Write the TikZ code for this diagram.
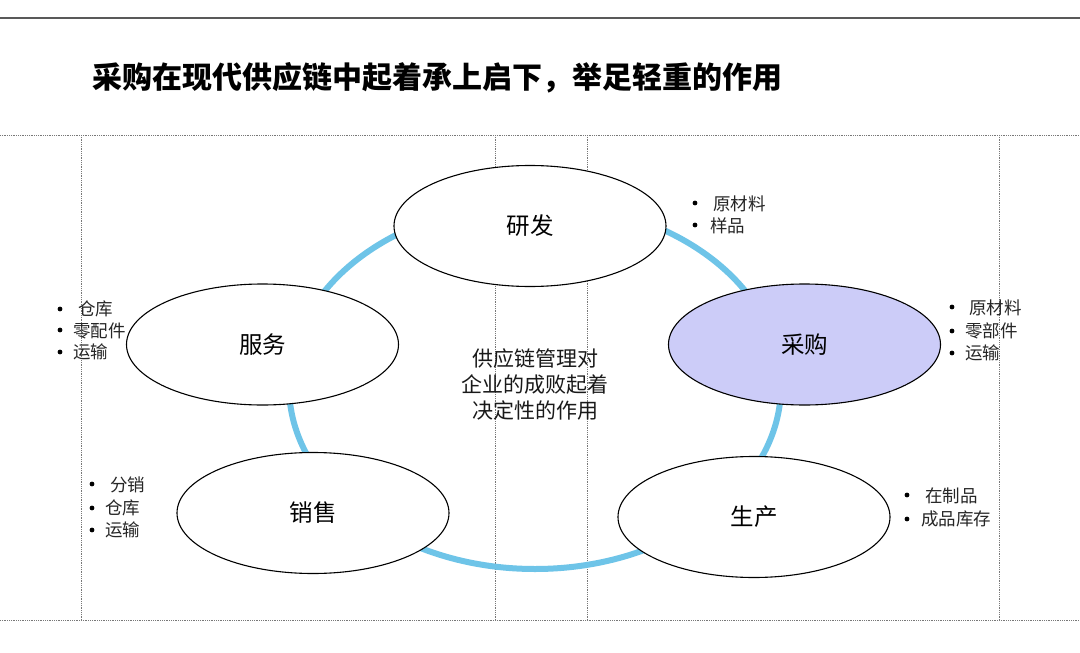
\documentclass[tikz,border=0pt]{standalone}
\usepackage{fontspec}
\newfontfamily\cjk{Noto Sans CJK SC}
\usetikzlibrary{shapes.geometric}
\definecolor{ringblue}{RGB}{110,196,232}
\definecolor{lavender}{RGB}{204,204,248}
\definecolor{gridgray}{RGB}{120,120,120}
\begin{document}
\begin{tikzpicture}[x=1pt,y=-1pt,
  ell/.style={draw=black, line width=1.1pt, fill=white, ellipse, minimum width=272pt, minimum height=121pt, inner sep=0pt, font=\cjk\fontsize{23.5}{26}\selectfont},
  gridline/.style={densely dotted, draw=gridgray, line width=0.8pt},
  ring/.style={draw=ringblue, line width=6pt},
  dot/.style={circle, fill=black, inner sep=0pt, minimum size=4.8pt},
  item/.style={anchor=west, inner sep=0pt, font=\cjk\fontsize{17.5}{20}\selectfont, text=black!85},
]
\useasboundingbox (0,0) rectangle (1080,653);
\fill[white] (0,0) rectangle (1080,653);
% top rule
\draw[draw=black!65, line width=2pt] (0,18) -- (1080,18);
% title
\node[anchor=west, inner sep=0pt, font=\cjk\bfseries\fontsize{30}{32}\selectfont] (title) at (92,78) {采购在现代供应链中起着承上启下，举足轻重的作用};
% grid
\draw[gridline] (0,135) -- (1080,135);
\draw[gridline] (0,620) -- (1080,620);
\foreach \gx in {81,495,587,999} { \draw[gridline] (\gx,135) -- (\gx,620); }
% ring
\draw[ring] (535,386) ellipse [x radius=246, y radius=183];
% ellipses
\node[ell] (yf) at (530,226) {研发};
\node[ell] (fw) at (262.5,344.5) {服务};
\node[ell, fill=lavender] (cg) at (804.5,344.5) {采购};
\node[ell] (xs) at (313,513) {销售};
\node[ell] (sc) at (754,517) {生产};
% center text
\node[align=center, inner sep=0pt, font=\cjk\fontsize{21}{26}\selectfont, text=black!90] (center) at (535,384) {供应链管理对\\企业的成败起着\\决定性的作用};
% lists: 研发
\node[dot] (d1a) at (695,203) {};
\node[dot] (d1b) at (695,225) {};
\node[item] (t1a) at (713,204) {原材料};
\node[item] (t1b) at (710,226) {样品};
% 服务
\node[dot] (d2a) at (60,309) {};
\node[dot] (d2b) at (60,330) {};
\node[dot] (d2c) at (60,352) {};
\node[item] (t2a) at (78,309) {仓库};
\node[item] (t2b) at (73,331) {零配件};
\node[item] (t2c) at (73,352) {运输};
% 采购
\node[dot] (d3a) at (952,307) {};
\node[dot] (d3b) at (952,331) {};
\node[dot] (d3c) at (952,353) {};
\node[item] (t3a) at (969,308) {原材料};
\node[item] (t3b) at (965,331) {零部件};
\node[item] (t3c) at (965,353) {运输};
% 销售
\node[dot] (d4a) at (92,484) {};
\node[dot] (d4b) at (92,508) {};
\node[dot] (d4c) at (92,530) {};
\node[item] (t4a) at (110,485) {分销};
\node[item] (t4b) at (105,508) {仓库};
\node[item] (t4c) at (105,530) {运输};
% 生产
\node[dot] (d5a) at (907,495) {};
\node[dot] (d5b) at (907,519) {};
\node[item] (t5a) at (925,496) {在制品};
\node[item] (t5b) at (921,519) {成品库存};
\end{tikzpicture}
\end{document}
